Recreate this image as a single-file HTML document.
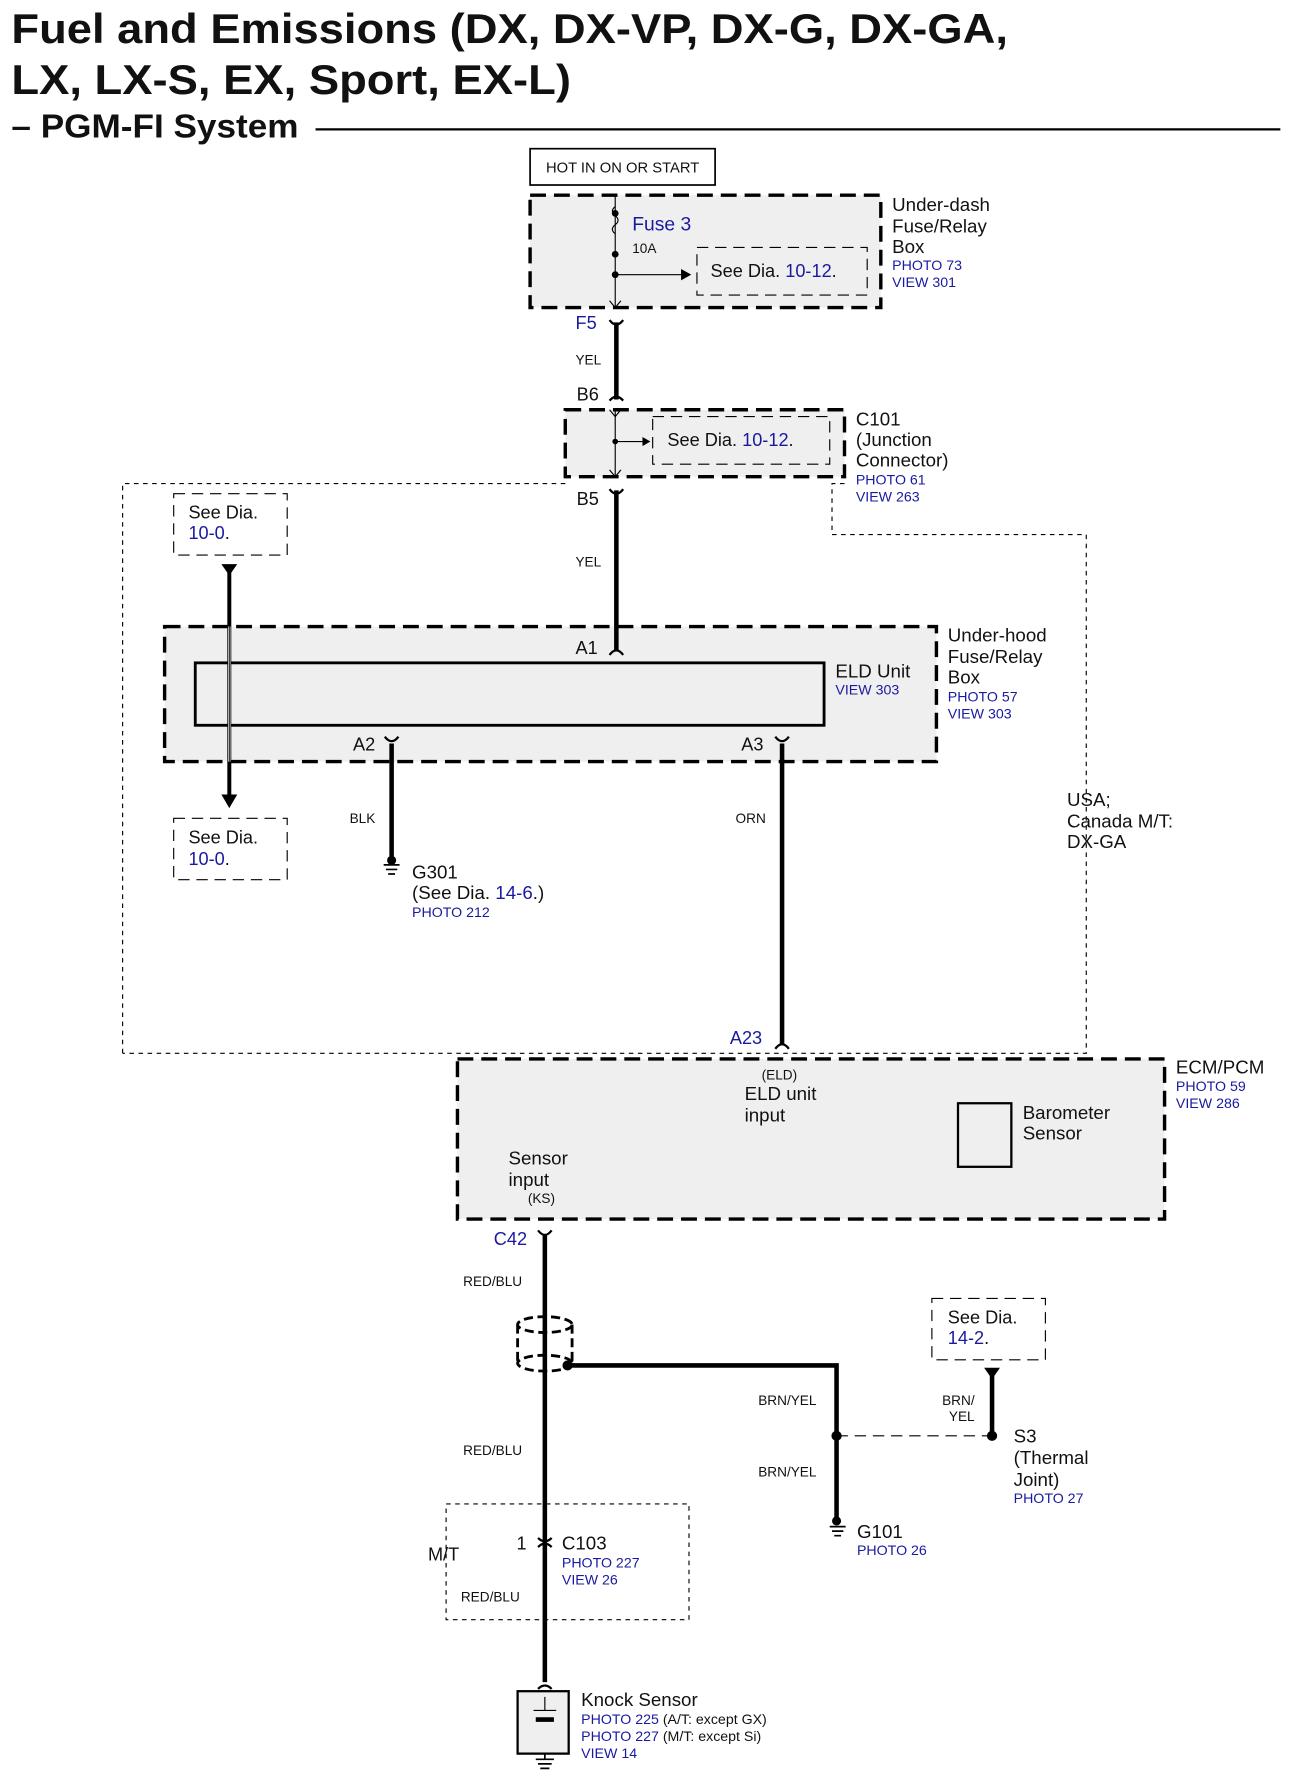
<!DOCTYPE html>
<html><head><style>html,body{margin:0;padding:0;background:#fff}svg{display:block}
text{font-family:"Liberation Sans",Arial,sans-serif;fill:#111}
.b{fill:#1a1aa0}</style></head><body>
<svg width="1294" height="1782" viewBox="0 0 1140 1570" xmlns="http://www.w3.org/2000/svg">
<text x="10" y="38" font-size="37" font-weight="bold" textLength="878" lengthAdjust="spacingAndGlyphs">Fuel and Emissions (DX, DX-VP, DX-G, DX-GA,</text>
<text x="10" y="83" font-size="37" font-weight="bold" textLength="493" lengthAdjust="spacingAndGlyphs">LX, LX-S, EX, Sport, EX-L)</text>
<text x="10" y="121" font-size="29" font-weight="bold" textLength="253" lengthAdjust="spacingAndGlyphs">– PGM-FI System</text>
<line x1="278" y1="114" x2="1128" y2="114" stroke="#000" stroke-width="2"/>
<g stroke="#000" fill="none">
<rect x="467" y="131" width="163" height="32" stroke-width="1.5"/>
<rect x="467" y="172" width="309" height="99" fill="#efefef" stroke-width="3" stroke-dasharray="14,7"/>
<rect x="614" y="218" width="150" height="42" stroke-width="1" stroke-dasharray="10,6"/>
<rect x="498" y="361" width="246" height="59" fill="#efefef" stroke-width="3" stroke-dasharray="14,7"/>
<rect x="575" y="367" width="156" height="42" stroke-width="1" stroke-dasharray="10,6"/>
<polyline points="108,928 108,426 498,426" stroke-width="1" stroke-dasharray="4,4"/>
<polyline points="744,426 733,426 733,471 957,471 957,928 108,928" stroke-width="1" stroke-dasharray="4,4"/>
<rect x="153" y="435" width="100" height="54" stroke-width="1" stroke-dasharray="10,6"/>
<rect x="153" y="721" width="100" height="54" stroke-width="1" stroke-dasharray="10,6"/>
<rect x="145" y="552" width="680" height="119" fill="#efefef" stroke-width="3" stroke-dasharray="14,7"/>
<rect x="172" y="584" width="554" height="55" stroke-width="2.5"/>
<rect x="403" y="933" width="623" height="141" fill="#efefef" stroke-width="3" stroke-dasharray="14,7"/>
<rect x="844" y="972" width="47" height="56" stroke-width="2"/>
<rect x="821" y="1144" width="100" height="54" stroke-width="1" stroke-dasharray="10,6"/>
<rect x="393" y="1325" width="214" height="102" stroke-width="1" stroke-dasharray="4,4"/>
<line x1="542" y1="172" x2="542" y2="271" stroke-width="1"/>
<line x1="542" y1="242" x2="600" y2="242" stroke-width="1"/>
<line x1="542" y1="361" x2="542" y2="420" stroke-width="1"/>
<line x1="542" y1="389" x2="566" y2="389" stroke-width="1"/>
<line x1="543" y1="284" x2="543" y2="352" stroke-width="4"/>
<line x1="543" y1="432" x2="543" y2="574" stroke-width="4"/>
<line x1="202" y1="500" x2="202" y2="700" stroke-width="3.5"/>
<line x1="202" y1="552" x2="202" y2="671" stroke="#fff" stroke-width="2"/>
<line x1="202" y1="552" x2="202" y2="671" stroke-width="0.8"/>
<line x1="345" y1="655" x2="345" y2="758" stroke-width="4"/>
<line x1="689" y1="655" x2="689" y2="920" stroke-width="4"/>
<line x1="480" y1="1088" x2="480" y2="1482" stroke-width="4"/>
<polyline points="500,1203 737,1203 737,1340" stroke-width="4"/>
<line x1="737" y1="1265" x2="874" y2="1265" stroke-width="1" stroke-dasharray="10,6"/>
<line x1="874" y1="1208" x2="874" y2="1265" stroke-width="4"/>
<ellipse cx="480" cy="1167" rx="24" ry="7" stroke-width="2.5" stroke-dasharray="8,4"/>
<ellipse cx="480" cy="1201" rx="24" ry="7" stroke-width="2.5" stroke-dasharray="8,4"/>
<line x1="456" y1="1167" x2="456" y2="1201" stroke-width="2.5" stroke-dasharray="8,4"/>
<line x1="504" y1="1167" x2="504" y2="1201" stroke-width="2.5" stroke-dasharray="8,4"/>
<rect x="456" y="1490" width="45" height="55" stroke-width="2" fill="#efefef"/>
<path d="M537,282 Q543,290 549,282 M537,353 Q543,346 549,353 M537,431 Q543,439 549,431 M537,577 Q543,569 549,577 M339,649 Q345,657 351,649 M683,649 Q689,657 695,649 M683,924 Q689,916 695,924 M474,1084 Q480,1092 486,1084 M474,1355 Q480,1361 486,1355 M474,1363 Q480,1357 486,1363 M474,1488 Q480,1482 486,1488" stroke-width="2"/>
<path d="M537,265 L542,271 L547,265 M537,414 L542,420 L547,414 M537,361 L542,367 L547,361" stroke-width="1"/>
<path d="M542,182 q-5,4 0,8 q5,4 0,8 q-5,4 0,8" stroke-width="1" fill="none"/>
<path d="M338,762 h14 M340,766 h10 M342,770 h6 M731,1345 h14 M733,1349 h10 M735,1353 h6 M472,1550 h16 M474,1554 h12 M476,1558 h8" stroke-width="1.5"/>
<line x1="480" y1="1545" x2="480" y2="1550" stroke-width="1.5"/>
<line x1="472" y1="1515" x2="488" y2="1515" stroke-width="4"/>
<line x1="470" y1="1507" x2="490" y2="1507" stroke-width="1"/>
<line x1="480" y1="1495" x2="480" y2="1507" stroke-width="1"/>
</g>
<g fill="#000">
<circle cx="542" cy="188" r="3"/><circle cx="542" cy="224" r="3"/><circle cx="542" cy="242" r="3"/>
<circle cx="542" cy="389" r="2.5"/>
<path d="M600,237 L609,242 L600,247 Z"/><path d="M566,385 L573,389 L566,393 Z"/>
<path d="M195,497 L209,497 L202,507 Z"/><path d="M195,700 L209,700 L202,712 Z"/>
<path d="M867,1205 L881,1205 L874,1215 Z"/>
<circle cx="500" cy="1203" r="4.5"/><circle cx="737" cy="1265" r="4.5"/><circle cx="874" cy="1265" r="4.5"/>
<circle cx="345" cy="758" r="4"/><circle cx="737" cy="1340" r="4"/>
</g>
<g font-size="14">
<text x="481" y="152" font-size="13">HOT IN ON OR START</text>
<text x="557" y="203" font-size="17" class="b">Fuse 3</text>
<text x="557" y="223" font-size="12">10A</text>
<text x="626" y="244" font-size="16">See Dia. <tspan class="b">10-12</tspan>.</text>
<text x="588" y="393" font-size="16">See Dia. <tspan class="b">10-12</tspan>.</text>
<text x="786" y="186" font-size="16.5">Under-dash</text><text x="786" y="205" font-size="16.5">Fuse/Relay</text><text x="786" y="223" font-size="16.5">Box</text>
<text x="786" y="238" font-size="12.5" class="b">PHOTO 73</text><text x="786" y="253" font-size="12.5" class="b">VIEW 301</text>
<text x="507" y="290" font-size="16" class="b">F5</text>
<text x="507" y="321" font-size="12">YEL</text>
<text x="508" y="353" font-size="16">B6</text>
<text x="754" y="375" font-size="16.5">C101</text><text x="754" y="393" font-size="16.5">(Junction</text><text x="754" y="411" font-size="16.5">Connector)</text>
<text x="754" y="427" font-size="12.5" class="b">PHOTO 61</text><text x="754" y="442" font-size="12.5" class="b">VIEW 263</text>
<text x="508" y="445" font-size="16">B5</text>
<text x="507" y="499" font-size="12">YEL</text>
<text x="166" y="457" font-size="16">See Dia.</text><text x="166" y="475" font-size="16" class="b">10-0<tspan fill="#111">.</tspan></text>
<text x="166" y="743" font-size="16">See Dia.</text><text x="166" y="762" font-size="16" class="b">10-0<tspan fill="#111">.</tspan></text>
<text x="507" y="576" font-size="16">A1</text>
<text x="736" y="597" font-size="16.5">ELD Unit</text><text x="736" y="612" font-size="12.5" class="b">VIEW 303</text>
<text x="835" y="565" font-size="16.5">Under-hood</text><text x="835" y="584" font-size="16.5">Fuse/Relay</text><text x="835" y="602" font-size="16.5">Box</text>
<text x="835" y="618" font-size="12.5" class="b">PHOTO 57</text><text x="835" y="633" font-size="12.5" class="b">VIEW 303</text>
<text x="311" y="661" font-size="16">A2</text><text x="653" y="661" font-size="16">A3</text>
<text x="308" y="725" font-size="12">BLK</text><text x="648" y="725" font-size="12">ORN</text>
<text x="940" y="710" font-size="16.5">USA;</text><text x="940" y="729" font-size="16.5">Canada M/T:</text><text x="940" y="747" font-size="16.5">DX-GA</text>
<text x="363" y="774" font-size="16.5">G301</text><text x="363" y="792" font-size="16.5">(See Dia. <tspan class="b">14-6</tspan>.)</text>
<text x="363" y="808" font-size="12.5" class="b">PHOTO 212</text>
<text x="643" y="920" font-size="16" class="b">A23</text>
<text x="671" y="951" font-size="12">(ELD)</text><text x="656" y="969" font-size="16.5">ELD unit</text><text x="656" y="988" font-size="16.5">input</text>
<text x="901" y="986" font-size="16.5">Barometer</text><text x="901" y="1004" font-size="16.5">Sensor</text>
<text x="1036" y="946" font-size="16.5">ECM/PCM</text>
<text x="1036" y="961" font-size="12.5" class="b">PHOTO 59</text><text x="1036" y="976" font-size="12.5" class="b">VIEW 286</text>
<text x="448" y="1026" font-size="16.5">Sensor</text><text x="448" y="1045" font-size="16.5">input</text><text x="465" y="1060" font-size="12">(KS)</text>
<text x="435" y="1097" font-size="16" class="b">C42</text>
<text x="408" y="1133" font-size="12">RED/BLU</text>
<text x="408" y="1282" font-size="12">RED/BLU</text>
<text x="406" y="1411" font-size="12">RED/BLU</text>
<text x="668" y="1238" font-size="12">BRN/YEL</text><text x="668" y="1301" font-size="12">BRN/YEL</text>
<text x="830" y="1238" font-size="12">BRN/</text><text x="836" y="1252" font-size="12">YEL</text>
<text x="835" y="1166" font-size="16">See Dia.</text><text x="835" y="1184" font-size="16" class="b">14-2<tspan fill="#111">.</tspan></text>
<text x="893" y="1271" font-size="16.5">S3</text><text x="893" y="1290" font-size="16.5">(Thermal</text><text x="893" y="1309" font-size="16.5">Joint)</text>
<text x="893" y="1324" font-size="12.5" class="b">PHOTO 27</text>
<text x="755" y="1355" font-size="16.5">G101</text><text x="755" y="1370" font-size="12.5" class="b">PHOTO 26</text>
<text x="377" y="1375" font-size="16">M/T</text><text x="455" y="1365" font-size="16">1</text>
<text x="495" y="1365" font-size="16.5">C103</text>
<text x="495" y="1381" font-size="12.5" class="b">PHOTO 227</text><text x="495" y="1396" font-size="12.5" class="b">VIEW 26</text>
<text x="512" y="1503" font-size="16.5">Knock Sensor</text>
<text x="512" y="1519" font-size="12.5"><tspan class="b">PHOTO 225</tspan> (A/T: except GX)</text>
<text x="512" y="1534" font-size="12.5"><tspan class="b">PHOTO 227</tspan> (M/T: except Si)</text>
<text x="512" y="1549" font-size="12.5" class="b">VIEW 14</text>
</g>
</svg>
</body></html>
